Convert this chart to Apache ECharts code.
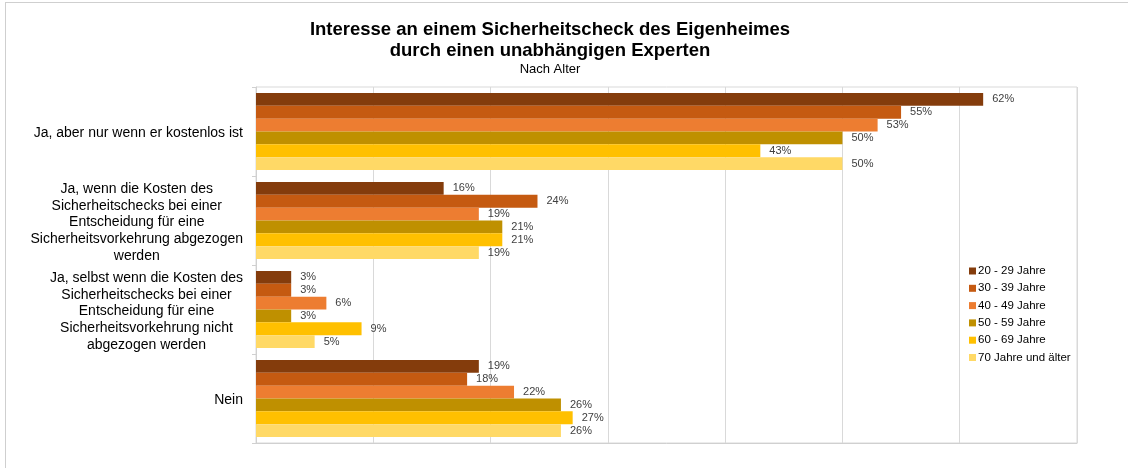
<!DOCTYPE html>
<html>
<head>
<meta charset="utf-8">
<script src="https://cdn.jsdelivr.net/npm/echarts@6/dist/echarts.min.js"></script>
<style>
  html, body { margin: 0; padding: 0; background: #fff; }
  #frame { position: absolute; left: 0; top: 0; width: 1128px; height: 468px; }
  #border { position: absolute; left: 5px; top: 2px; width: 1128px; height: 470px;
            border-left: 1px solid #cfcfcf; border-top: 1px solid #cfcfcf; pointer-events: none; }
  #chart { position: absolute; left: 0; top: 0; width: 1128px; height: 468px; }
</style>
</head>
<body>
<div id="frame">
  <div id="chart"></div>
  <div id="border"></div>
</div>
<script>
// Answer categories (top to bottom), lines as they are wrapped on the axis
const categories = [
  ['Ja, aber nur wenn er kostenlos ist'],
  ['Ja, wenn die Kosten des', 'Sicherheitschecks bei einer', 'Entscheidung für eine', 'Sicherheitsvorkehrung abgezogen', 'werden'],
  ['Ja, selbst wenn die Kosten des', 'Sicherheitschecks bei einer', 'Entscheidung für eine', 'Sicherheitsvorkehrung nicht', 'abgezogen werden'],
  ['Nein']
];

// Age groups
const ageGroups = ['20 - 29 Jahre', '30 - 39 Jahre', '40 - 49 Jahre', '50 - 59 Jahre', '60 - 69 Jahre', '70 Jahre und älter'];
const ageColors = ['#843C0C', '#C55A11', '#ED7D31', '#BF9000', '#FFC000', '#FFD966'];

// Share in percent per age group, one value per category
const v20_29 = [62, 16, 3, 19];
const v30_39 = [55, 24, 3, 18];
const v40_49 = [53, 19, 6, 22];
const v50_59 = [50, 21, 3, 26];
const v60_69 = [43, 21, 9, 27];
const v70plus = [50, 19, 5, 26];
const seriesValues = [v20_29, v30_39, v40_49, v50_59, v60_69, v70plus];

const font = '"Liberation Sans", Arial, sans-serif';
const catKeys = categories.map((c, i) => 'c' + i);

const chart = echarts.init(document.getElementById('chart'), null, { renderer: 'canvas' });

chart.setOption({
  animation: false,
  backgroundColor: '#ffffff',
  title: {
    text: 'Interesse an einem Sicherheitscheck des Eigenheimes\ndurch einen unabhängigen Experten',
    subtext: 'Nach Alter',
    left: 545,
    textAlign: 'center',
    top: 14,
    itemGap: 2,
    textStyle: { fontFamily: font, fontSize: 18.5, fontWeight: 'bold', color: '#000', lineHeight: 21 },
    subtextStyle: { fontFamily: font, fontSize: 13, color: '#000' }
  },
  legend: {
    orient: 'vertical',
    left: 964,
    top: 260,
    itemWidth: 7,
    itemHeight: 7,
    itemGap: 5.3,
    icon: 'rect',
    textStyle: { fontFamily: font, fontSize: 11.5, color: '#000', padding: [0, 0, 0, -3] },
    data: ageGroups
  },
  grid: { left: 256, right: 51, top: 87, bottom: 25, show: true, borderColor: '#d9d9d9', borderWidth: 1 },
  xAxis: {
    type: 'value',
    min: 0,
    max: 70,
    interval: 10,
    axisLabel: { show: false },
    axisTick: { show: false },
    axisLine: { show: true, lineStyle: { color: '#d0d0d0' } },
    splitLine: { show: true, lineStyle: { color: '#d9d9d9', width: 1 } }
  },
  yAxis: {
    type: 'category',
    inverse: true,
    data: catKeys,
    axisLine: { show: true, lineStyle: { color: '#d0d0d0' } },
    axisTick: { show: true, length: 4, lineStyle: { color: '#d0d0d0' } },
    axisLabel: {
      margin: 13,
      align: 'right',
      fontFamily: font,
      fontSize: 14,
      color: '#000',
      lineHeight: 16.7,
      padding: [4, 0, 0, 0],
      formatter: (val, idx) => categories[idx].map(l => '{c|' + l + '}').join('\n'),
      rich: { c: { align: 'center', fontFamily: font, fontSize: 14, color: '#000', lineHeight: 16.7 } }
    }
  },
  series: seriesValues.map((vals, i) => ({
    name: ageGroups[i],
    type: 'bar',
    data: vals,
    barGap: '0%',
    barCategoryGap: '13.5%',
    itemStyle: { color: ageColors[i] },
    label: {
      show: true,
      position: 'right',
      distance: 9,
      formatter: '{c}%',
      fontFamily: font,
      fontSize: 11,
      color: '#404040'
    }
  }))
});
</script>
</body>
</html>
